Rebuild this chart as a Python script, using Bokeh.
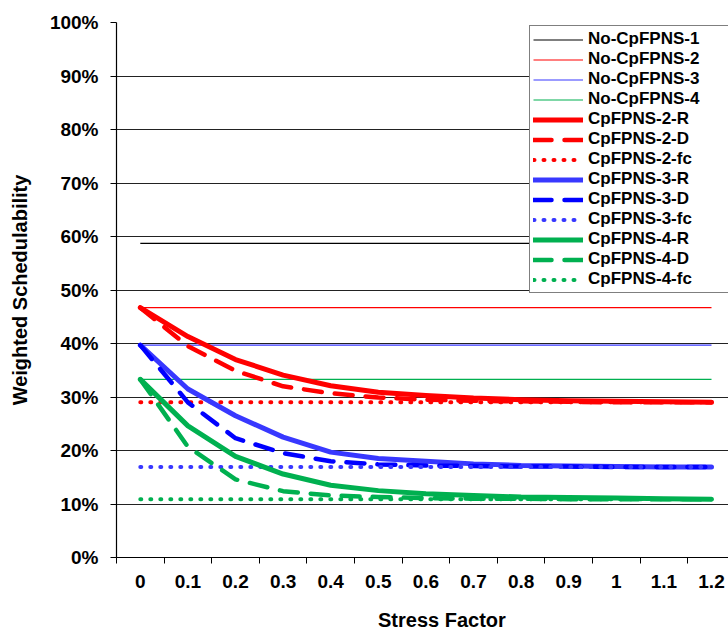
from bokeh.plotting import figure
from bokeh.models import (Range1d, FixedTicker, NumeralTickFormatter, Legend,
                          LegendItem)
from bokeh.embed import file_html
from bokeh.resources import INLINE

# ---------------- data ----------------
categories = ["0", "0.1", "0.2", "0.3", "0.4", "0.5", "0.6", "0.7", "0.8",
              "0.9", "1", "1.1", "1.2"]
xpos = list(range(len(categories)))

no_cpfpns_1 = [0.587, 0.587, 0.587, 0.587, 0.587, 0.587, 0.587, 0.587, 0.587, 0.587, 0.587, 0.587, 0.587]
no_cpfpns_2 = [0.467, 0.467, 0.467, 0.467, 0.467, 0.467, 0.467, 0.467, 0.467, 0.467, 0.467, 0.467, 0.467]
no_cpfpns_3 = [0.397, 0.397, 0.397, 0.397, 0.397, 0.397, 0.397, 0.397, 0.397, 0.397, 0.397, 0.397, 0.397]
no_cpfpns_4 = [0.333, 0.333, 0.333, 0.333, 0.333, 0.333, 0.333, 0.333, 0.333, 0.333, 0.333, 0.333, 0.333]

cp2_R = [0.467, 0.413, 0.370, 0.341, 0.321, 0.309, 0.303, 0.298, 0.295, 0.293, 0.292, 0.291, 0.290]
cp2_D = [0.467, 0.395, 0.349, 0.320, 0.307, 0.299, 0.295, 0.293, 0.292, 0.291, 0.290, 0.290, 0.290]
cp2_fc = [0.290, 0.290, 0.290, 0.290, 0.290, 0.290, 0.290, 0.290, 0.290, 0.290, 0.290, 0.290, 0.290]

cp3_R = [0.397, 0.315, 0.265, 0.225, 0.197, 0.185, 0.180, 0.175, 0.172, 0.171, 0.170, 0.169, 0.169]
cp3_D = [0.397, 0.290, 0.223, 0.195, 0.180, 0.174, 0.172, 0.171, 0.170, 0.170, 0.169, 0.169, 0.169]
cp3_fc = [0.169, 0.169, 0.169, 0.169, 0.169, 0.169, 0.169, 0.169, 0.169, 0.169, 0.169, 0.169, 0.169]

cp4_R = [0.333, 0.246, 0.189, 0.156, 0.135, 0.125, 0.119, 0.116, 0.113, 0.112, 0.111, 0.110, 0.109]
cp4_D = [0.333, 0.207, 0.146, 0.124, 0.116, 0.113, 0.111, 0.110, 0.110, 0.109, 0.109, 0.109, 0.109]
cp4_fc = [0.109, 0.109, 0.109, 0.109, 0.109, 0.109, 0.109, 0.109, 0.109, 0.109, 0.109, 0.109, 0.109]

y_ticks = [0.0, 0.1, 0.2, 0.3, 0.4, 0.5, 0.6, 0.7, 0.8, 0.9, 1.0]

# ---------------- figure ----------------
FONT = "Liberation Sans"
RED = "#FF0000"
BLUE_L = "#3838FF"
BLUE_D = "#0000FF"
GREEN = "#00B050"

step_px = 47.6
frame_w = 728 - 116
x_end = -0.5 + frame_w / step_px

p = figure(width=728, height=634, output_backend="svg", toolbar_location=None,
           x_range=Range1d(-0.5, x_end), y_range=Range1d(0, 1),
           min_border_left=116, min_border_right=0, min_border_top=22,
           min_border_bottom=77)
p.outline_line_color = None
p.background_fill_color = "white"
p.border_fill_color = "white"

# x axis
p.xaxis.ticker = FixedTicker(ticks=xpos, minor_ticks=[i - 0.5 for i in range(len(categories) + 1)])
p.xaxis.major_label_overrides = {i: c for i, c in enumerate(categories)}
p.xaxis.major_tick_out = 0
p.xaxis.major_tick_in = 0
p.xaxis.minor_tick_out = 6
p.xaxis.minor_tick_in = 0
p.xaxis.minor_tick_line_color = "black"
p.xaxis.axis_line_color = "black"
p.xaxis.axis_line_width = 1.2
p.xaxis.major_label_standoff = 11
p.xaxis.major_label_text_font = FONT
p.xaxis.major_label_text_font_style = "bold"
p.xaxis.major_label_text_font_size = "19px"
p.xaxis.major_label_text_color = "black"
# title sits a little right of the frame centre in the reference
p.xaxis.axis_label = "\u00a0" * 7 + "Stress Factor"
p.xaxis.axis_label_text_font = FONT
p.xaxis.axis_label_text_font_style = "bold"
p.xaxis.axis_label_text_font_size = "20px"
p.xaxis.axis_label_text_color = "black"
p.xaxis.axis_label_standoff = 18
p.xgrid.grid_line_color = None

# y axis
p.yaxis.ticker = FixedTicker(ticks=y_ticks)
p.yaxis.formatter = NumeralTickFormatter(format="0%")
p.yaxis.minor_tick_line_color = None
p.yaxis.major_tick_out = 6
p.yaxis.major_tick_in = 0
p.yaxis.major_tick_line_color = "black"
p.yaxis.axis_line_color = "black"
p.yaxis.axis_line_width = 1.2
p.yaxis.major_label_standoff = 12
p.yaxis.major_label_text_font = FONT
p.yaxis.major_label_text_font_style = "bold"
p.yaxis.major_label_text_font_size = "19px"
p.yaxis.major_label_text_color = "black"
p.yaxis.axis_label = "Weighted Schedulability"
p.yaxis.axis_label_text_font = FONT
p.yaxis.axis_label_text_font_style = "bold"
p.yaxis.axis_label_text_font_size = "20px"
p.yaxis.axis_label_text_color = "black"
p.yaxis.axis_label_standoff = 16
p.ygrid.grid_line_color = "#222222"
p.ygrid.grid_line_width = 1

# ---------------- series ----------------
series = [
    ("No-CpFPNS-1", no_cpfpns_1, "black", 1.2, "solid", "butt"),
    ("No-CpFPNS-2", no_cpfpns_2, RED, 1.2, "solid", "butt"),
    ("No-CpFPNS-3", no_cpfpns_3, BLUE_L, 1.2, "solid", "butt"),
    ("No-CpFPNS-4", no_cpfpns_4, GREEN, 1.2, "solid", "butt"),
    ("CpFPNS-2-R", cp2_R, RED, 5, "solid", "round"),
    ("CpFPNS-2-D", cp2_D, RED, 4.5, "18 13", "round"),
    ("CpFPNS-2-fc", cp2_fc, RED, 4, "1 9", "round"),
    ("CpFPNS-3-R", cp3_R, BLUE_L, 5, "solid", "round"),
    ("CpFPNS-3-D", cp3_D, BLUE_D, 4.5, "18 13", "round"),
    ("CpFPNS-3-fc", cp3_fc, BLUE_L, 4, "1 9", "round"),
    ("CpFPNS-4-R", cp4_R, GREEN, 5, "solid", "round"),
    ("CpFPNS-4-D", cp4_D, GREEN, 4.5, "18 13", "round"),
    ("CpFPNS-4-fc", cp4_fc, GREEN, 4, "1 9", "round"),
]

items = []
for name, ys, color, lw, dash, cap in series:
    r = p.line(xpos, ys, line_color=color, line_width=lw, line_dash=dash,
               line_cap=cap, line_join="round")
    items.append(LegendItem(label=name, renderers=[r]))

legend = Legend(items=items, location=(413, 264))
legend.label_text_font = FONT
legend.label_text_font_style = "bold"
legend.label_text_font_size = "17px"
legend.label_text_color = "black"
legend.glyph_width = 50
legend.glyph_height = 19
legend.label_height = 19
legend.label_width = 140
legend.label_standoff = 5
legend.spacing = 0
legend.padding = 3
legend.margin = 0
legend.border_line_color = "black"
legend.border_line_width = 1.2
legend.background_fill_color = "white"
legend.background_fill_alpha = 1.0
p.add_layout(legend, "center")

open("out.html", "w").write(file_html(p, INLINE))
